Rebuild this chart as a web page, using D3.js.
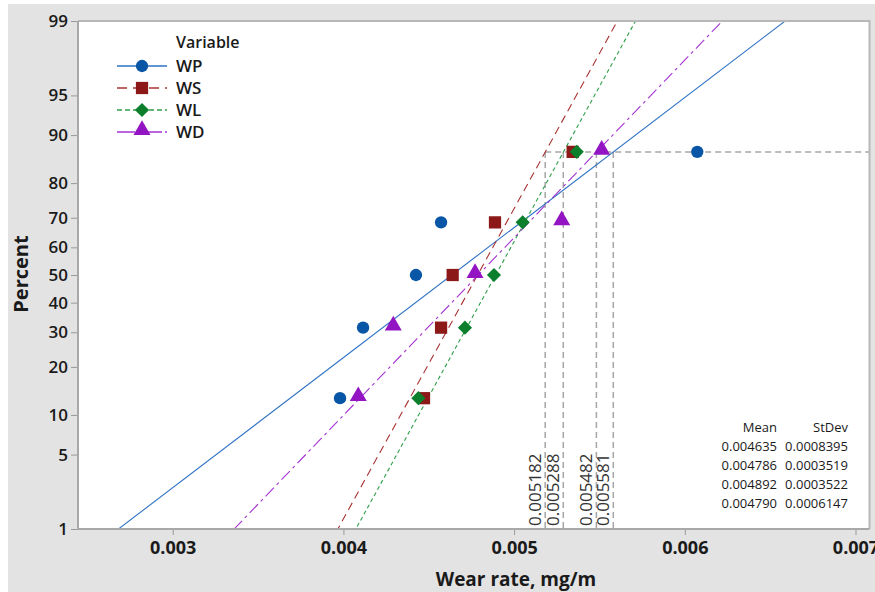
<!DOCTYPE html>
<html>
<head>
<meta charset="utf-8">
<script src="https://cdn.jsdelivr.net/npm/d3@7"></script>
<style>
  html, body { margin: 0; padding: 0; background: #fff; }
  svg { display: block; font-family: "Open Sans", "DejaVu Sans", sans-serif; }
  .tick text { fill: #1a1a1a; }
</style>
</head>
<body>
<div id="chart"></div>
<script>
// data
var series = ["WP", "WS", "WL", "WD"];
var percents = [12.96, 31.48, 50, 68.52, 87.04];
var wpValues = [0.003980, 0.004115, 0.004425, 0.004572, 0.006073];
var wsValues = [0.004472, 0.004572, 0.004640, 0.004888, 0.005343];
var wlValues = [0.004439, 0.004712, 0.004882, 0.005050, 0.005367];
var wdValues = [0.004087, 0.004292, 0.004771, 0.005279, 0.005513];
var means = [0.004635, 0.004786, 0.004892, 0.004790];
var stdevs = [0.0008395, 0.0003519, 0.0003522, 0.0006147];
var meanLabels = ["0.004635", "0.004786", "0.004892", "0.004790"];
var stdevLabels = ["0.0008395", "0.0003519", "0.0003522", "0.0006147"];
var refPercent = 87;
var refValues = [0.005182, 0.005288, 0.005482, 0.005581];
var refLabels = ["0.005182", "0.005288", "0.005482", "0.005581"];
var xTicks = [0.003, 0.004, 0.005, 0.006, 0.007];
var yTicks = [1, 5, 10, 20, 30, 40, 50, 60, 70, 80, 90, 95, 99];

var values = [wpValues, wsValues, wlValues, wdValues];

var w = 875;
var h = 592;
var pLeft = 78, pRight = 869.5, pTop = 21, pBottom = 529;

// inverse normal cdf (Acklam)
function probit(p) {
  var a = [-39.69683028665376, 220.9460984245205, -275.9285104469687, 138.3577518672690, -30.66479806614716, 2.506628277459239];
  var b = [-54.47609879822406, 161.5858368580409, -155.6989798598866, 66.80131188771972, -13.28068155288572];
  var c = [-0.007784894002430293, -0.3223964580411365, -2.400758277161838, -2.549732539343734, 4.374664141464968, 2.938163982698783];
  var d = [0.007784695709041462, 0.3224671290700398, 2.445134137142996, 3.754408661907416];
  var q, r;
  if (p < 0.02425) {
    q = Math.sqrt(-2 * Math.log(p));
    return (((((c[0]*q+c[1])*q+c[2])*q+c[3])*q+c[4])*q+c[5]) / ((((d[0]*q+d[1])*q+d[2])*q+d[3])*q+1);
  } else if (p > 1 - 0.02425) {
    q = Math.sqrt(-2 * Math.log(1 - p));
    return -(((((c[0]*q+c[1])*q+c[2])*q+c[3])*q+c[4])*q+c[5]) / ((((d[0]*q+d[1])*q+d[2])*q+d[3])*q+1);
  }
  q = p - 0.5; r = q * q;
  return (((((a[0]*r+a[1])*r+a[2])*r+a[3])*r+a[4])*r+a[5])*q / (((((b[0]*r+b[1])*r+b[2])*r+b[3])*r+b[4])*r+1);
}

var xScale = d3.scaleLinear()
  .domain([0.002445, 0.007082])
  .range([pLeft, pRight]);

var zScale = d3.scaleLinear()
  .domain([probit(0.01), probit(0.99)])
  .range([pBottom, pTop]);

function yScale(pct) { return zScale(probit(pct / 100)); }

var markerColors = ["#0a56a6", "#8c1818", "#0b7f2c", "#9214c2"];
var lineColors = ["#2e72c4", "#a83232", "#2f9e4a", "#a432d2"];
var dashes = [null, "8,5", "4,3", "12,4,3,4"];
// diamond is a square turned 45 degrees
var symbols = [d3.symbolCircle, d3.symbolSquare, d3.symbolSquare, d3.symbolTriangle];
var symSizes = [120, 150, 100, 125];
var symRotate = [0, 0, 45, 0];

var svg = d3.select("#chart")
  .append("svg")
  .attr("width", w)
  .attr("height", h);

// gray outer panel and white plot area
svg.append("rect")
  .attr("x", 8).attr("y", 4)
  .attr("width", w - 8).attr("height", h - 4)
  .attr("fill", "#e3e3e3");

svg.append("rect")
  .attr("x", pLeft).attr("y", pTop)
  .attr("width", pRight - pLeft).attr("height", pBottom - pTop)
  .attr("fill", "#fff");

svg.append("defs").append("clipPath")
  .attr("id", "plotClip")
  .append("rect")
  .attr("x", pLeft).attr("y", pTop)
  .attr("width", pRight - pLeft).attr("height", pBottom - pTop);

var plot = svg.append("g").attr("clip-path", "url(#plotClip)");

// reference lines at 87 percent
var yRef = yScale(refPercent);
plot.append("line")
  .attr("x1", xScale(d3.min(refValues))).attr("x2", pRight)
  .attr("y1", yRef).attr("y2", yRef)
  .attr("stroke", "#a6a6a6")
  .attr("stroke-width", 1.5)
  .attr("stroke-dasharray", "6,4");

plot.selectAll(".refv")
  .data(refValues)
  .enter().append("line")
  .attr("x1", function(d) { return xScale(d); })
  .attr("x2", function(d) { return xScale(d); })
  .attr("y1", yRef).attr("y2", pBottom)
  .attr("stroke", "#a6a6a6")
  .attr("stroke-width", 1.5)
  .attr("stroke-dasharray", "6,4");

plot.selectAll(".reflabel")
  .data(refLabels)
  .enter().append("text")
  .attr("transform", function(d, i) {
    return "translate(" + (xScale(refValues[i]) - 4) + "," + (pBottom - 3) + ") rotate(-90)";
  })
  .attr("font-size", 17)
  .attr("fill", "#333")
  .text(function(d) { return d; });

// fitted normal lines
var zLow = probit(0.001), zHigh = probit(0.999);
var fitLine = d3.line()
  .x(function(d) { return xScale(d.x); })
  .y(function(d) { return zScale(d.z); });

series.forEach(function(s, i) {
  var pts = [
    { x: means[i] + zLow * stdevs[i], z: zLow },
    { x: means[i] + zHigh * stdevs[i], z: zHigh }
  ];
  plot.append("path")
    .datum(pts)
    .attr("d", fitLine)
    .attr("fill", "none")
    .attr("stroke", lineColors[i])
    .attr("stroke-width", 1.1)
    .attr("stroke-dasharray", dashes[i]);
});

// points
series.forEach(function(s, i) {
  plot.selectAll(".pt" + s)
    .data(values[i])
    .enter().append("path")
    .attr("d", d3.symbol().type(symbols[i]).size(symSizes[i]))
    .attr("transform", function(d, j) {
      var yy = yScale(percents[j]);
      if (i === 3) yy -= 2;
      return "translate(" + xScale(d) + "," + yy + ") rotate(" + symRotate[i] + ")";
    })
    .attr("fill", markerColors[i]);
});

// axes
var xAxis = d3.axisBottom(xScale)
  .tickValues(xTicks)
  .tickSize(6)
  .tickFormat(d3.format(".3f"));

var gx = svg.append("g")
  .attr("class", "axis")
  .attr("transform", "translate(0," + pBottom + ")")
  .call(xAxis);
gx.select(".domain").remove();
gx.selectAll(".tick line").attr("stroke", "#999");
gx.selectAll(".tick text")
  .attr("y", 12)
  .attr("font-size", 18)
  .attr("font-weight", "bold")
  .attr("font-family", "'Open Sans', sans-serif");

var yAxis = d3.axisLeft(zScale)
  .tickValues(yTicks.map(function(p) { return probit(p / 100); }))
  .tickSize(7)
  .tickFormat(function(d, i) { return yTicks[i]; });

var gy = svg.append("g")
  .attr("class", "axis")
  .attr("transform", "translate(" + pLeft + ",0)")
  .call(yAxis);
gy.select(".domain").remove();
gy.selectAll(".tick line").attr("stroke", "#999");
gy.selectAll(".tick text")
  .attr("x", -10)
  .attr("font-size", 17)
  .attr("font-weight", 600)
  .attr("font-family", "'Open Sans', sans-serif");

// frame
svg.append("path")
  .attr("d", "M" + pLeft + "," + pTop + "H" + pRight + "V" + pBottom)
  .attr("fill", "none")
  .attr("stroke", "#b8b8b8")
  .attr("stroke-width", 2);
svg.append("path")
  .attr("d", "M" + pLeft + "," + pTop + "V" + pBottom + "H" + pRight)
  .attr("fill", "none")
  .attr("stroke", "#a8a8a8")
  .attr("stroke-width", 2);

// axis titles
svg.append("text")
  .attr("x", 516).attr("y", 586)
  .attr("text-anchor", "middle")
  .attr("font-size", 19)
  .attr("font-weight", "bold")
  .attr("fill", "#1a1a1a")
  .text("Wear rate, mg/m");

svg.append("text")
  .attr("transform", "translate(28,274) rotate(-90)")
  .attr("text-anchor", "middle")
  .attr("font-size", 20)
  .attr("font-weight", "bold")
  .attr("fill", "#1a1a1a")
  .text("Percent");

// legend
var legend = svg.append("g").attr("transform", "translate(117,0)");
legend.append("text")
  .attr("x", 59).attr("y", 48)
  .attr("font-size", 16)
  .attr("font-weight", 600)
  .attr("fill", "#1a1a1a")
  .text("Variable");

series.forEach(function(s, i) {
  var ly = 66 + i * 22;
  legend.append("line")
    .attr("x1", 0).attr("x2", 50)
    .attr("y1", ly).attr("y2", ly)
    .attr("stroke", lineColors[i])
    .attr("stroke-width", 1.4)
    .attr("stroke-dasharray", i === 0 ? null : (i === 1 ? "10,6,0,0" : (i === 2 ? "5,3" : "18,3,3,3")));
  legend.append("path")
    .attr("d", d3.symbol().type(symbols[i]).size(symSizes[i]))
    .attr("transform", "translate(25," + (i === 3 ? ly - 2 : ly) + ") rotate(" + symRotate[i] + ")")
    .attr("fill", markerColors[i]);
  legend.append("text")
    .attr("x", 59).attr("y", ly + 6)
    .attr("font-size", 17)
    .attr("font-weight", 600)
    .attr("fill", "#1a1a1a")
    .text(s);
});

// stats table
var table = svg.append("g").attr("font-size", 13).attr("fill", "#1a1a1a");
table.append("text").attr("x", 777).attr("y", 432).attr("text-anchor", "end").text("Mean");
table.append("text").attr("x", 848).attr("y", 432).attr("text-anchor", "end").text("StDev");
meanLabels.forEach(function(m, i) {
  table.append("text").attr("x", 777).attr("y", 451 + i * 19).attr("text-anchor", "end").text(m);
  table.append("text").attr("x", 848).attr("y", 451 + i * 19).attr("text-anchor", "end").text(stdevLabels[i]);
});
</script>
</body>
</html>
